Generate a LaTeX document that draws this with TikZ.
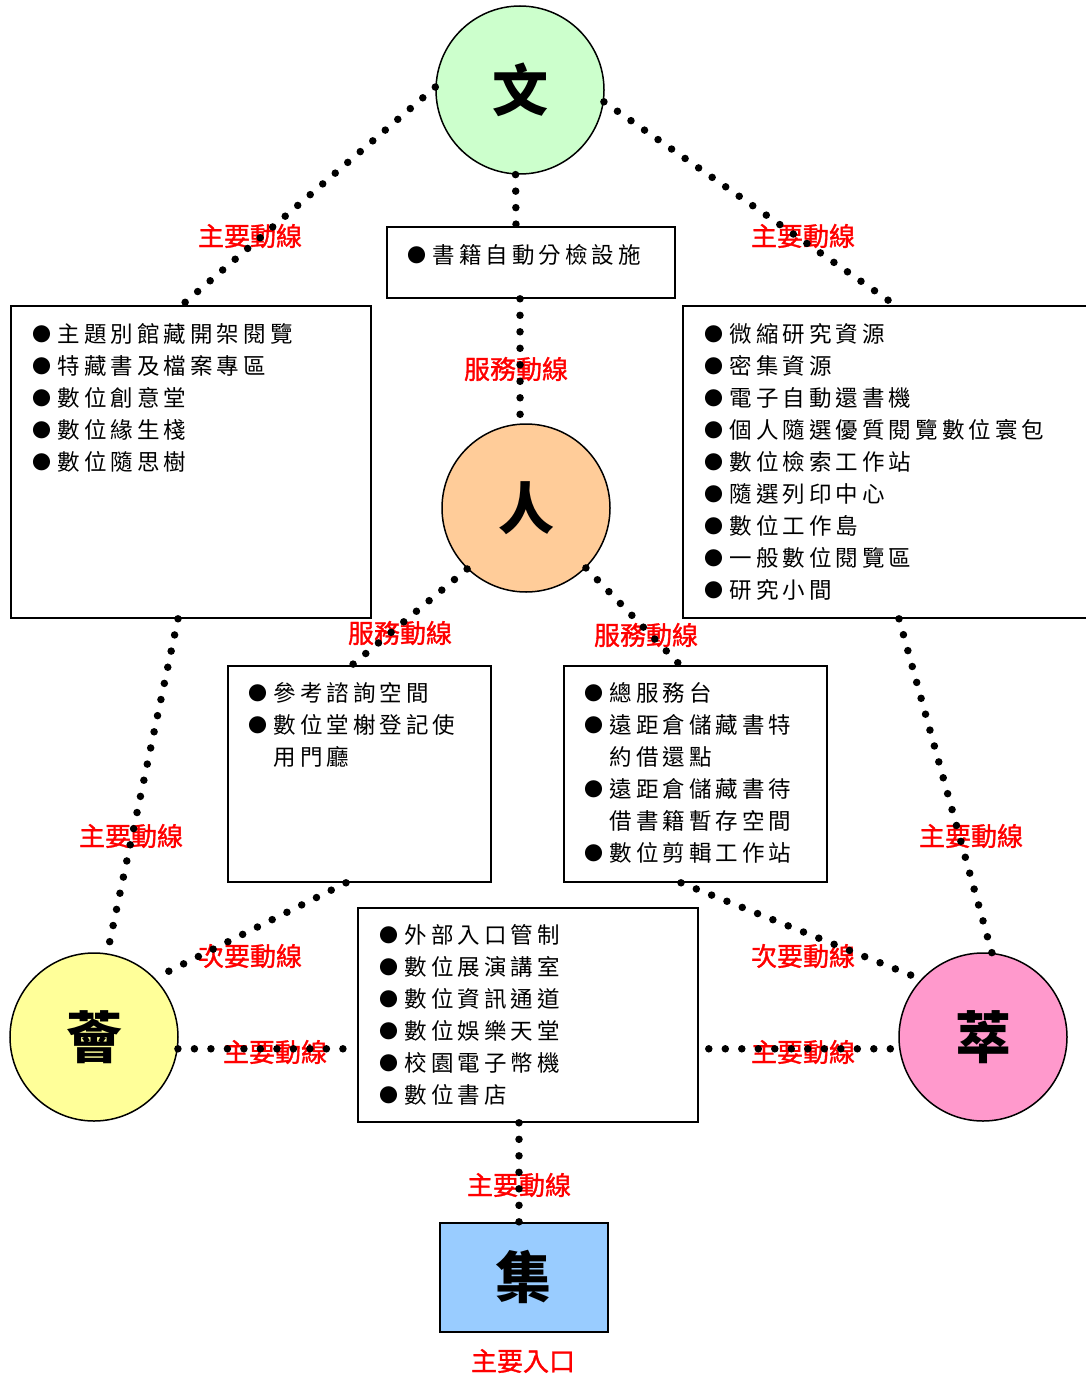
\documentclass[tikz,border=0pt]{standalone}
\usepackage{fontspec}
\newfontfamily\cjk[LetterSpace=18]{Noto Sans CJK TC}
\newfontfamily\cjklab[FakeBold=1.2]{Noto Sans CJK TC}
\newfontfamily\cjkbig{Noto Sans CJK TC}
\newcommand\bl{\makebox[25.5pt][l]{\raisebox{0.8pt}{\fontsize{19}{19}\selectfont●}}}
\newcommand\ind{\hspace*{25.5pt}}
\usetikzlibrary{calc}
\definecolor{cwen}{HTML}{CCFFCC}
\definecolor{cren}{HTML}{FFCC99}
\definecolor{chui}{HTML}{FFFF99}
\definecolor{ccui}{HTML}{FF99CC}
\definecolor{cji}{HTML}{99CCFF}
\tikzset{
  hub/.style={circle, draw=black, line width=1.5pt, minimum size=168pt, inner sep=0pt,
    font=\cjkbig\bfseries\fontsize{56}{60}\selectfont},
  box/.style={draw=black, line width=1.8pt, anchor=north west, inner sep=0pt},
  list/.style={anchor=north west, inner sep=0pt, align=left,
    font=\cjk\fontsize{22.5}{32}\selectfont},
  lab/.style={text=red, inner sep=0pt, font=\cjklab\fontsize{26}{28}\selectfont},
  dotline/.style={line width=7.5pt, line cap=round, dash pattern=on 0pt off 16.5pt},
}
\begin{document}
\begin{tikzpicture}[x=1pt,y=-1pt]
\useasboundingbox[fill=white] (0,0) rectangle (1086,1375);
% hubs
\node[hub, fill=cwen] (wen) at (520,90) {文};
\node[hub, fill=cren] (ren) at (526,508) {人};
\node[hub, fill=chui] (hui) at (94,1037) {薈};
\node[hub, fill=ccui] (cui) at (983,1037) {萃};
\node[box, fill=cji, minimum width=168pt, minimum height=109pt] (ji) at (439,1222) {};
\node[font=\cjkbig\bfseries\fontsize{56}{60}\selectfont, inner sep=0pt] (jit) at (ji.center) {集};
% boxes
\node[box, minimum width=288pt, minimum height=71pt] (sbox) at (386,226) {};
\node[box, minimum width=360pt, minimum height=312pt] (lbox) at (10,305) {};
\node[box, minimum width=412pt, minimum height=312pt] (rbox) at (682,305) {};
\node[box, minimum width=263pt, minimum height=216pt] (mlbox) at (227,665) {};
\node[box, minimum width=263pt, minimum height=216pt] (mrbox) at (563,665) {};
\node[box, minimum width=340pt, minimum height=214pt] (bbox) at (357,907) {};
% lists
\node[list] (st) at (407,244) {\bl 書籍自動分檢設施};
\node[list] (lt) at (32,323) {\bl 主題別館藏開架閱覽\\\bl 特藏書及檔案專區\\\bl 數位創意堂\\\bl 數位緣生棧\\\bl 數位隨思樹};
\node[list] (rt) at (704,323) {\bl 微縮研究資源\\\bl 密集資源\\\bl 電子自動還書機\\\bl 個人隨選優質閱覽數位寰包\\\bl 數位檢索工作站\\\bl 隨選列印中心\\\bl 數位工作島\\\bl 一般數位閱覽區\\\bl 研究小間};
\node[list] (mlt) at (248,682) {\bl 參考諮詢空間\\\bl 數位堂榭登記使\\\ind 用門廳};
\node[list] (mrt) at (584,682) {\bl 總服務台\\\bl 遠距倉儲藏書特\\\ind 約借還點\\\bl 遠距倉儲藏書待\\\ind 借書籍暫存空間\\\bl 數位剪輯工作站};
\node[list] (bt) at (379,924) {\bl 外部入口管制\\\bl 數位展演講室\\\bl 數位資訊通道\\\bl 數位娛樂天堂\\\bl 校園電子幣機\\\bl 數位書店};
% labels
\node[lab] (l1) at (250,236) {主要動線};
\node[lab] (l2) at (803,236) {主要動線};
\node[lab] (l3) at (516,369) {服務動線};
\node[lab] (l4) at (400,633) {服務動線};
\node[lab] (l5) at (646,635) {服務動線};
\node[lab] (l6) at (131,836) {主要動線};
\node[lab] (l7) at (971,836) {主要動線};
\node[lab] (l8) at (250,956) {次要動線};
\node[lab] (l9) at (803,956) {次要動線};
\node[lab] (l10) at (275,1052) {主要動線};
\node[lab] (l11) at (803,1052) {主要動線};
\node[lab] (l12) at (519,1185) {主要動線};
\node[lab] (l13) at (523,1361) {主要入口};
% connectors
\draw[dotline] (wen.178) -- ([xshift=172pt]lbox.north west);
\draw[dotline] (wen.-8) -- ([xshift=213pt]rbox.north west);
\draw[dotline] (wen.267) -- ([xshift=130pt]sbox.north west);
\draw[dotline] ([xshift=134pt]sbox.south west) -- (ren.94);
\draw[dotline] (ren.226) -- ([xshift=125pt]mlbox.north west);
\draw[dotline] (ren.315) -- ([xshift=117pt]mrbox.north west);
\draw[dotline] ([xshift=168pt]lbox.south west) -- (hui.81);
\draw[dotline] ([xshift=217pt]rbox.south west) -- (cui.84);
\draw[dotline] ([xshift=119pt]mlbox.south west) -- (hui.44);
\draw[dotline] ([xshift=118pt]mrbox.south west) -- (cui.137);
\draw[dotline] (hui.-8) -- ($(hui.-8 -| bbox.west)+(-14,0)$);
\draw[dotline] ($(cui.188 -| bbox.east)+(10,0)$) -- (cui.188);
\draw[dotline] ([xshift=162pt]bbox.south west) -- ([xshift=80pt]ji.north west);
\end{tikzpicture}
\end{document}
